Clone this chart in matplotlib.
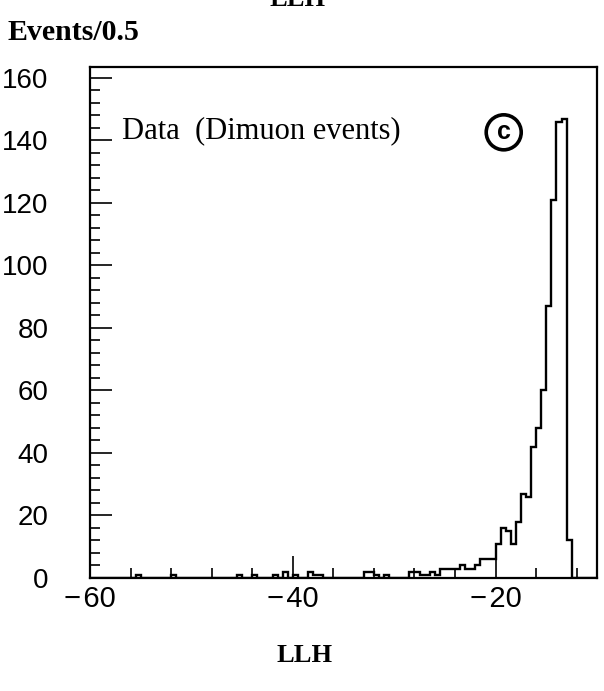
import matplotlib
matplotlib.use('Agg')
import matplotlib.pyplot as plt
import numpy as np
from matplotlib.ticker import MultipleLocator

# Histogram definition (Events / 0.5 in LLH)
x_min = -60.0
x_max = -10.0
bin_width = 0.5
counts = [
    0, 0, 0, 0, 0, 0, 0, 0, 0, 1,
    0, 0, 0, 0, 0, 0, 1, 0, 0, 0,
    0, 0, 0, 0, 0, 0, 0, 0, 0, 1,
    0, 0, 1, 0, 0, 0, 1, 0, 2, 0,
    1, 0, 0, 2, 1, 1, 0, 0, 0, 0,
    0, 0, 0, 0, 2, 2, 1, 0, 1, 0,
    0, 0, 0, 2, 2, 1, 1, 2, 1, 3,
    3, 3, 3, 4, 3, 3, 4, 6, 6, 6,
    11, 16, 15, 11, 18, 27, 26, 42, 48, 60,
    87, 121, 146, 147, 12, 0, 0, 0, 0, 0,
]
edges = np.arange(x_min, x_max + bin_width / 2, bin_width)

x_ticks = [-60, -40, -20]
x_tick_labels = ['\u2212\u200a60', '\u2212\u200a40', '\u2212\u200a20']
y_ticks = [0, 20, 40, 60, 80, 100, 120, 140, 160]

fig = plt.figure(figsize=(6.04, 6.91), dpi=100)
ax = fig.add_axes([90 / 604, 113 / 691, 507 / 604, 511 / 691])

ax.stairs(counts, edges, color='black', lw=1.7, baseline=0)

ax.set_xlim(x_min, x_max)
ax.set_ylim(0, 163.5)
ax.set_xticks(x_ticks)
ax.set_xticklabels(x_tick_labels)
ax.set_yticks(y_ticks)
ax.xaxis.set_minor_locator(MultipleLocator(4))
ax.yaxis.set_minor_locator(MultipleLocator(4))

ax.tick_params(which='both', direction='in', top=False, right=False,
               width=1.2, color='black')
ax.tick_params(which='major', length=16)
ax.tick_params(which='minor', length=7)
ax.tick_params(axis='y', which='major', pad=30)
ax.tick_params(axis='x', which='major', pad=5)
for lab in ax.get_yticklabels():
    lab.set_fontfamily(['Liberation Sans', 'DejaVu Sans'])
    lab.set_fontsize(20)
for lab in ax.get_xticklabels():
    lab.set_fontfamily(['Liberation Sans', 'DejaVu Sans'])
    lab.set_fontsize(21)

for sp in ax.spines.values():
    sp.set_linewidth(1.6)

ax.text(-56.8, 143, 'Data  (Dimuon events)', fontfamily='Liberation Serif',
        fontsize=22, va='center', ha='left')
ax.text(-19.2, 142.6, 'c', fontfamily='Liberation Sans', fontweight='bold',
        fontsize=18, va='center', ha='center',
        bbox=dict(boxstyle='circle,pad=0.22', fc='white', ec='black', lw=2.6))

fig.text(7 / 604, 1 - 32 / 691, 'Events/0.5', fontfamily='Liberation Serif',
         fontweight='bold', fontsize=21.5, ha='left', va='center')
fig.text(298 / 604, 1 + 1 / 691, 'LLH', fontfamily='Liberation Serif',
         fontweight='bold', fontsize=19, ha='center', va='center')
fig.text(305 / 604, 1 - 655 / 691, 'LLH', fontfamily='Liberation Serif',
         fontweight='bold', fontsize=19, ha='center', va='center')

fig.savefig('out.png', dpi=100)
